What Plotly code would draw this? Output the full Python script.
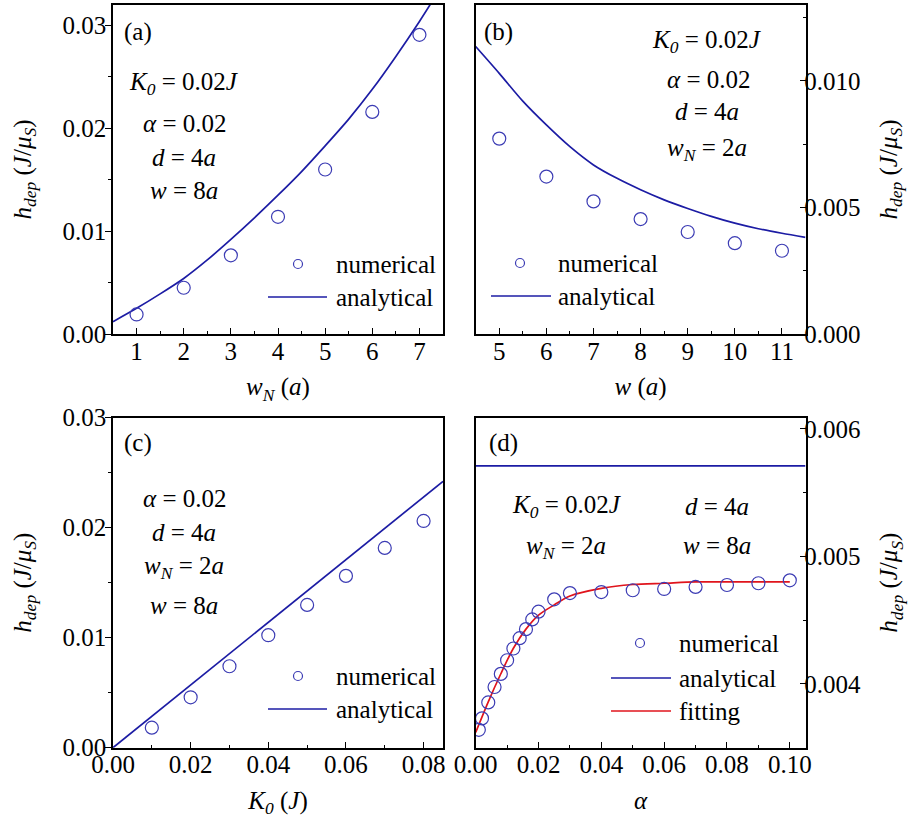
import plotly.graph_objects as go

W, H = 914, 825
FONT = "Times New Roman"
FS = 25
BLUE_M = "#3c3cb4"
BLUE_L = "#1c1ca4"
RED = "#e0141c"

# ---------------- data ----------------
# (a) h_dep vs w_N
a_num_x = [1, 2, 3, 4, 5, 6, 7]
a_num_y = [0.0019, 0.0045, 0.00765, 0.0114, 0.0160, 0.0216, 0.0291]
a_ana_x = [0.5, 1, 1.5, 2, 2.5, 3, 3.5, 4, 4.5, 5, 5.5, 6, 6.5, 7, 7.25]
a_ana_y = [0.0012, 0.0025, 0.0039, 0.0054, 0.0072, 0.0092, 0.0113, 0.0135,
           0.0158, 0.0183, 0.0209, 0.0238, 0.0270, 0.0304, 0.0322]

# (b) h_dep vs w
b_num_x = [5, 6, 7, 8, 9, 10, 11]
b_num_y = [0.00772, 0.00622, 0.00524, 0.00454, 0.00403, 0.00359, 0.00329]
b_ana_x = [4.5, 5, 5.5, 6, 6.5, 7, 7.5, 8, 8.5, 9, 9.5, 10, 10.5, 11, 11.5]
b_ana_y = [0.01136, 0.01030, 0.00920, 0.00826, 0.00740, 0.00668, 0.00615, 0.00570,
           0.00530, 0.00496, 0.00465, 0.00438, 0.00416, 0.00398, 0.00382]

# (c) h_dep vs K0
c_num_x = [0.01, 0.02, 0.03, 0.04, 0.05, 0.06, 0.07, 0.08]
c_num_y = [0.00182, 0.00458, 0.0074, 0.01022, 0.01297, 0.01561, 0.01815, 0.0206]
c_ana_x = [0.0, 0.04, 0.085]
c_ana_y = [0.0, 0.0114, 0.0242]

# (d) h_dep vs alpha
d_num_x = [0.001, 0.002, 0.004, 0.006, 0.008, 0.010, 0.012, 0.014, 0.016, 0.018,
           0.020, 0.025, 0.03, 0.04, 0.05, 0.06, 0.07, 0.08, 0.09, 0.10]
d_num_y = [0.00364, 0.00373, 0.003855, 0.003976, 0.004079, 0.004186, 0.004278,
           0.004359, 0.00443, 0.004506, 0.004567, 0.004664, 0.004713, 0.004721,
           0.004735, 0.004745, 0.004761, 0.004776, 0.00479, 0.004813]
d_ana_x = [0.0, 0.105]
d_ana_y = [0.00571, 0.00571]
d_fit_x = [0.0, 0.004, 0.008, 0.012, 0.016, 0.02, 0.025, 0.03, 0.04, 0.05,
           0.06, 0.07, 0.08, 0.09, 0.10]
d_fit_y = [0.00362, 0.00386, 0.00408, 0.00428, 0.00443, 0.00454, 0.00462,
           0.00469, 0.00475, 0.00478, 0.00479, 0.0048, 0.0048, 0.0048, 0.0048]

# ---------------- figure ----------------
fig = go.Figure()

def num_trace(x, y, xa, ya):
    fig.add_trace(go.Scatter(x=x, y=y, mode="markers", xaxis=xa, yaxis=ya,
                             marker=dict(symbol="circle-open", size=13,
                                         color=BLUE_M, line=dict(width=1.2, color=BLUE_M)),
                             showlegend=False, cliponaxis=True))

def line_trace(x, y, xa, ya, color, shape="spline"):
    fig.add_trace(go.Scatter(x=x, y=y, mode="lines", xaxis=xa, yaxis=ya,
                             line=dict(color=color, width=1.7, shape=shape, smoothing=0.8),
                             showlegend=False))

line_trace(a_ana_x, a_ana_y, "x", "y", BLUE_L)
num_trace(a_num_x, a_num_y, "x", "y")
line_trace(b_ana_x, b_ana_y, "x2", "y2", BLUE_L)
num_trace(b_num_x, b_num_y, "x2", "y2")
line_trace(c_ana_x, c_ana_y, "x3", "y3", BLUE_L, shape="linear")
num_trace(c_num_x, c_num_y, "x3", "y3")
line_trace(d_ana_x, d_ana_y, "x4", "y4", BLUE_L, shape="linear")
line_trace(d_fit_x, d_fit_y, "x4", "y4", RED)
num_trace(d_num_x, d_num_y, "x4", "y4")

def px(x):
    return x / W

def py(y):
    return 1 - y / H

dom_x_left = [px(113), px(443)]
dom_x_right = [px(475.7), px(805.5)]
dom_y_top = [py(334), py(5)]
dom_y_bot = [py(747.7), py(417.5)]

tickfont = dict(family=FONT, size=FS, color="black")
titlefont = dict(family=FONT, size=FS, color="black")

def xax(domain, anchor, rng, dtick, minor, fmt, title):
    return dict(domain=domain, anchor=anchor, range=rng, dtick=dtick, tick0=0,
                tickformat=fmt, ticks="inside", ticklen=6, tickwidth=1.2, tickcolor="black",
                minor=dict(dtick=minor, ticks="inside", ticklen=3, tickwidth=1.2, tickcolor="black"),
                showline=True, linecolor="black", linewidth=1.5, mirror=True,
                showgrid=False, zeroline=False, tickfont=tickfont, automargin=False,
                ticklabelstandoff=-6,
                title=dict(text=title, font=titlefont, standoff=14))

def yax(domain, anchor, rng, dtick, minor, fmt, side, ticks, title, standoff, lso):
    return dict(domain=domain, anchor=anchor, range=rng, dtick=dtick, tick0=0,
                tickformat=fmt, side=side, ticks=ticks, ticklen=6, tickwidth=1.2, tickcolor="black",
                minor=dict(dtick=minor, ticks=ticks, ticklen=3, tickwidth=1.2, tickcolor="black"),
                showline=True, linecolor="black", linewidth=1.5, mirror=True,
                showgrid=False, zeroline=False, tickfont=tickfont, automargin=False,
                ticklabelstandoff=lso,
                title=dict(text=title, font=titlefont, standoff=standoff))

YT = "<i>h</i><sub><i>dep</i></sub> (<i>J</i>/<i>μ</i><sub><i>S</i></sub>)"

fig.update_layout(
    width=W, height=H,
    margin=dict(l=0, r=0, t=0, b=0, autoexpand=False),
    paper_bgcolor="white", plot_bgcolor="white",
    font=dict(family=FONT, size=FS, color="black"),
    showlegend=False,
    xaxis=xax(dom_x_left, "y", [0.5, 7.5], 1, 0.5, "d",
              "<i>w</i><sub><i>N</i></sub> (<i>a</i>)"),
    yaxis=yax(dom_y_top, "x", [0, 0.032], 0.01, 0.005, ".2f", "left", "outside", YT, 24, -6),
    xaxis2=xax(dom_x_right, "y2", [4.5, 11.5], 1, 0.5, "d", "<i>w</i> (<i>a</i>)"),
    yaxis2=yax(dom_y_top, "x2", [0, 0.013], 0.005, 0.0025, ".3f", "right", "inside", YT, 20, -8),
    xaxis3=xax(dom_x_left, "y3", [0, 0.085], 0.02, 0.01, ".2f",
               "<i>K</i><sub><i>0</i></sub> (<i>J</i>)"),
    yaxis3=yax(dom_y_bot, "x3", [0, 0.03], 0.01, 0.005, ".2f", "left", "outside", YT, 24, -6),
    xaxis4=xax(dom_x_right, "y4", [0, 0.105], 0.02, 0.01, ".2f", "<i>α</i>"),
    yaxis4=yax(dom_y_bot, "x4", [0.0035, 0.00609], 0.001, 0.0005, ".3f", "right", "inside", YT, 20, -8),
)

ann = []

def text(x, y, s, anchor="center"):
    ann.append(dict(x=px(x), y=py(y), xref="paper", yref="paper", text=s,
                    showarrow=False, xanchor=anchor, yanchor="middle",
                    font=dict(family=FONT, size=FS, color="black")))

K0 = "<i>K</i><sub><i>0</i></sub> = 0.02<i>J</i>"
AL = "<i>α</i> = 0.02"
DD = "<i>d</i> = 4<i>a</i>"
WW = "<i>w</i> = 8<i>a</i>"
WN = "<i>w</i><sub><i>N</i></sub> = 2<i>a</i>"

# panel (a)
text(138, 32, "(a)")
text(184, 84, K0)
text(184, 124, AL)
text(184, 157, DD)
text(184, 191, WW)
# panel (b)
text(498, 32, "(b)")
text(707, 42, K0)
text(708, 80, AL)
text(707, 112, DD)
text(707, 149, WN)
# panel (c)
text(138, 443, "(c)")
text(184, 498, AL)
text(184, 532, DD)
text(184, 567, WN)
text(184, 605, WW)
# panel (d)
text(503, 443, "(d)")
text(567, 507, K0)
text(566, 547, WN)
text(717, 507, DD)
text(717, 545, WW)

shapes = []

def leg_marker(cx, cy):
    r = 4.5
    shapes.append(dict(type="circle", xref="paper", yref="paper",
                       x0=px(cx - r), x1=px(cx + r), y0=py(cy + r), y1=py(cy - r),
                       line=dict(color=BLUE_M, width=1.2)))

def leg_line(x0, x1, y, color):
    shapes.append(dict(type="line", xref="paper", yref="paper",
                       x0=px(x0), x1=px(x1), y0=py(y), y1=py(y),
                       line=dict(color=color, width=1.7)))

# legend (a)
leg_marker(298, 264)
text(334, 264, "numerical", "left")
leg_line(268, 327, 297, BLUE_L)
text(334, 297, "analytical", "left")
# legend (b)
leg_marker(520, 263)
text(556, 263, "numerical", "left")
leg_line(491, 551, 296, BLUE_L)
text(556, 296, "analytical", "left")
# legend (c)
leg_marker(298, 676)
text(334, 676, "numerical", "left")
leg_line(268, 327, 709, BLUE_L)
text(334, 709, "analytical", "left")
# legend (d)
leg_marker(640, 643)
text(677, 643, "numerical", "left")
leg_line(611, 671, 678, BLUE_L)
text(677, 678, "analytical", "left")
leg_line(611, 671, 711, RED)
text(677, 711, "fitting", "left")

fig.update_layout(annotations=ann, shapes=shapes)

fig.write_html("out.html", config={"displayModeBar": False},
               post_script="document.body.style.margin='0';")
